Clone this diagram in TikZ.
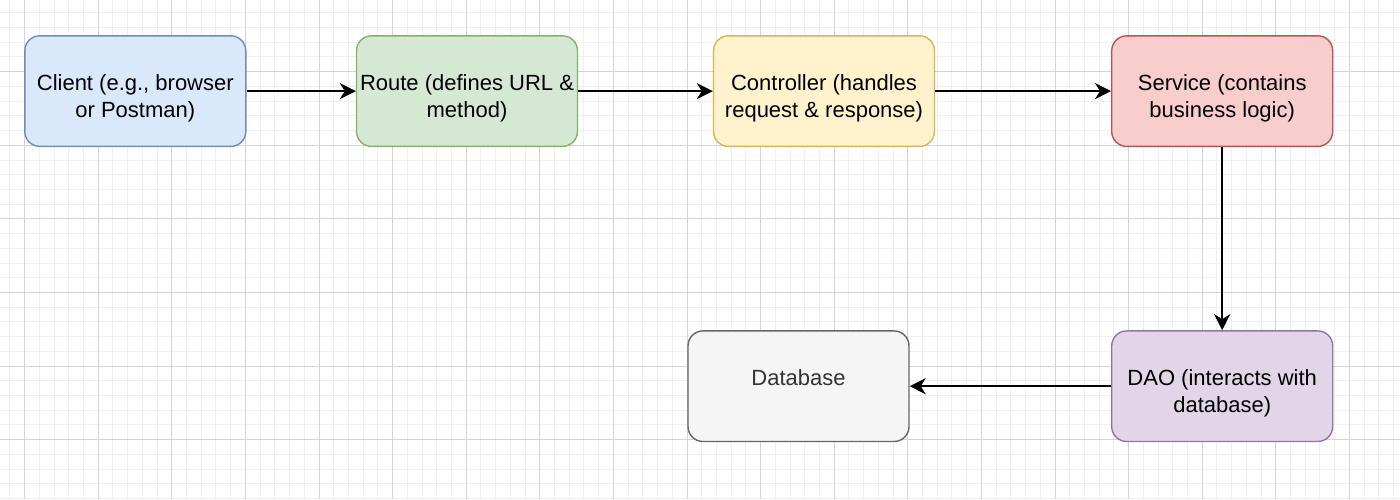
\documentclass[tikz,border=0pt]{standalone}
\usepackage{fontspec}
\setmainfont{Liberation Sans}
\usetikzlibrary{arrows.meta}

\definecolor{clientfill}{HTML}{DAE8FC}
\definecolor{clientline}{HTML}{6C8EBF}
\definecolor{routefill}{HTML}{D5E8D4}
\definecolor{routeline}{HTML}{82B366}
\definecolor{ctrlfill}{HTML}{FFF2CC}
\definecolor{ctrlline}{HTML}{D6B656}
\definecolor{servfill}{HTML}{F8CECC}
\definecolor{servline}{HTML}{B85450}
\definecolor{daofill}{HTML}{E1D5E7}
\definecolor{daoline}{HTML}{9673A6}
\definecolor{dbfill}{HTML}{F5F5F5}
\definecolor{dbline}{HTML}{666666}
\definecolor{dbtext}{HTML}{333333}
\definecolor{gridminor}{HTML}{F0F0F0}
\definecolor{gridmajor}{HTML}{D4D4D4}

\begin{document}
\begin{tikzpicture}[x=0.5pt,y=-0.5pt]
        \tikzset{box/.style = {shape=rectangle,draw,rounded corners=7.5pt,line width=0.7pt,
                minimum width=110.5pt,minimum height=55.3pt,inner sep=0pt}}
        \tikzset{lbl/.style = {align=center,font=\fontsize{11}{13.5}\selectfont,yshift=-3.5pt}}
        \tikzset{edge/.style = {-{Stealth[length=8pt,width=8pt,inset=2.5pt]},line width=1pt}}
        \useasboundingbox[fill=white] (0,0) rectangle (1400,499);
        % grid
        \foreach \i in {-1,...,94}
            \draw[gridminor,line width=0.5pt] ({24.6+14.72*\i},0) -- ({24.6+14.72*\i},499);
        \foreach \j in {0,...,34}
            \draw[gridminor,line width=0.5pt] (0,{-1.9+14.72*\j}) -- (1400,{-1.9+14.72*\j});
        \foreach \i in {0,...,18}
            \draw[gridmajor,line width=0.5pt] ({24.6+73.6*\i},0) -- ({24.6+73.6*\i},499);
        \foreach \j in {1,...,7}
            \draw[gridmajor,line width=0.5pt] (0,{-1.9+73.6*\j}) -- (1400,{-1.9+73.6*\j});
        % vertices
        \node[box,fill=clientfill,draw=clientline,
            label={[lbl]center:{Client (e.g., browser\\or Postman)}}] (client) at (135.3,91.1) {};
        \node[box,fill=routefill,draw=routeline,
            label={[lbl]center:{Route (defines URL \&\\method)}}] (route) at (467,91.1) {};
        \node[box,fill=ctrlfill,draw=ctrlline,
            label={[lbl]center:{Controller (handles\\request \& response)}}] (ctrl) at (824,91.1) {};
        \node[box,fill=servfill,draw=servline,
            label={[lbl]center:{Service (contains\\business logic)}}] (service) at (1222.2,91.1) {};
        \node[box,fill=daofill,draw=daoline,
            label={[lbl]center:{DAO (interacts with\\database)}}] (dao) at (1222.2,386.2) {};
        \node[box,fill=dbfill,draw=dbline,
            label={[lbl,yshift=8pt,text=dbtext]center:{Database}}] (db) at (798.5,386.2) {};
        %edges
        \draw[edge] (client) -- (route);
        \draw[edge] (route) -- (ctrl);
        \draw[edge] (ctrl) -- (service);
        \draw[edge] (service) -- (dao);
        \draw[edge] (dao) -- (db);

    \end{tikzpicture}
\end{document}
